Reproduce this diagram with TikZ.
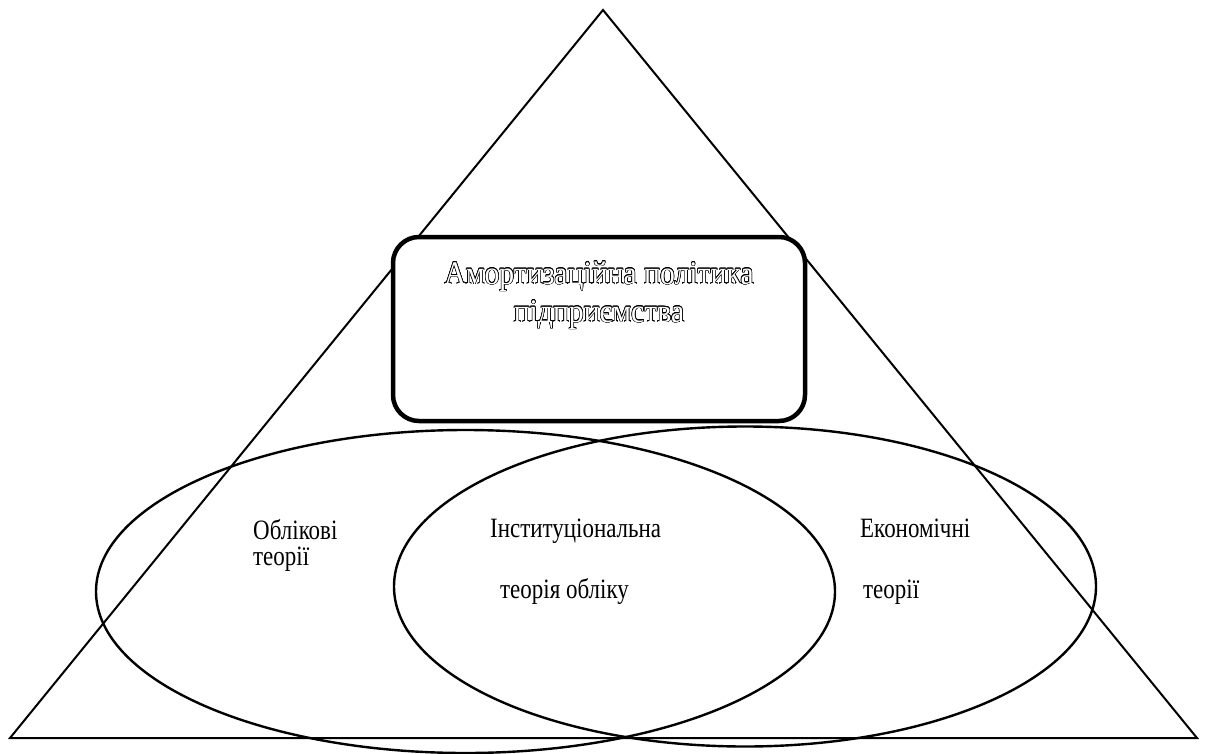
\documentclass[tikz,border=0pt]{standalone}
\usepackage{fontspec}
\setmainfont{Liberation Serif}
\newfontfamily\tallserif[FakeStretch=0.82]{Liberation Serif}
\newfontfamily\tallpolicy[FakeStretch=0.9]{Liberation Serif}
\usepackage{contour}
\usetikzlibrary{positioning}
\contourlength{0.55pt}
\newcommand{\hollow}[1]{\contour{black}{\textcolor{white}{#1}}}
\tikzset{
  frame/.style={draw=black,line width=2pt,line join=miter},
  oval/.style={draw=black,line width=2.4pt},
  policybox/.style={draw=black,fill=white,line width=4.5pt,rounded corners=26pt},
  theory/.style={font=\tallserif\fontsize{28}{33}\selectfont,anchor=base west,inner sep=0pt},
  policy/.style={font=\tallpolicy\fontsize{33}{39}\selectfont,anchor=base,inner sep=0pt}
}
\begin{document}
\begin{tikzpicture}[x=1pt,y=-1pt]
    \path[use as bounding box] (0,0) rectangle (1206,754);

    % outer triangle
    \draw[frame] (603,10) -- (1197,738) -- (10,738) -- cycle;

    % the two theory fields
    \draw[oval] (465.5,591.5) ellipse [x radius=369.5,y radius=161.5];
    \draw[oval] (745,586.5) ellipse [x radius=351,y radius=160];

    \draw[policybox] (393,237) rectangle (805,421);
    \node[policy] (pol1) at (599,284) {\hollow{Амортизаційна політика}};
    \node[policy] (pol2) at (599,322) {\hollow{підприємства}};

    \node[theory] (acc1) at (253,539) {Облікові};
    \node[theory] (acc2) at (253,565) {теорії};
    \node[theory] (inst1) at (490,537) {Інституціональна};
    \node[theory] (inst2) at (500,598) {теорія обліку};
    \node[theory] (eco1) at (860,537) {Економічні};
    \node[theory] (eco2) at (863,598) {теорії};
  \end{tikzpicture}
\end{document}
